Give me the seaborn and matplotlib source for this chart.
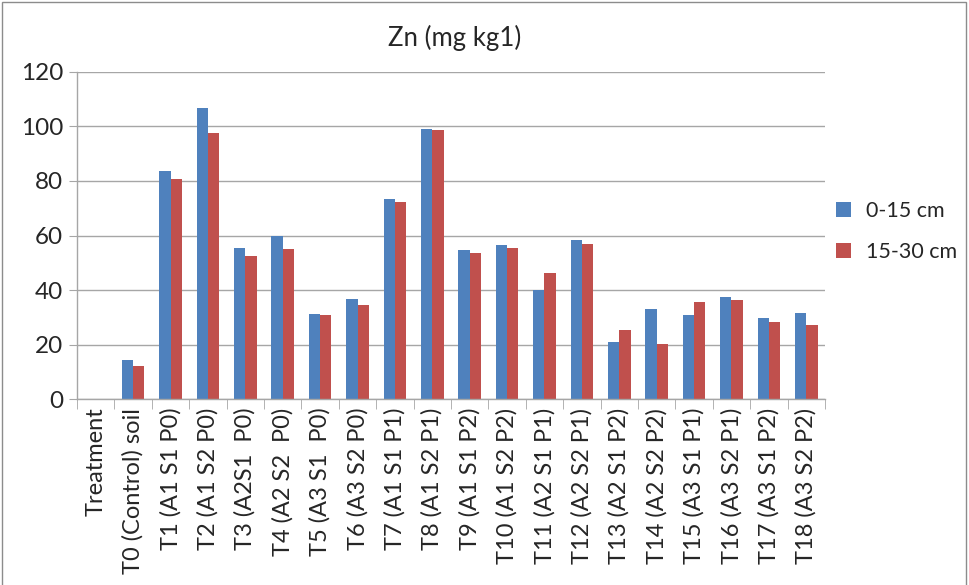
import pandas as pd
import numpy as np
import seaborn as sns
import matplotlib.pyplot as plt
from matplotlib.patches import Rectangle

# data
treatments = ['Treatment', 'T0 (Control) soil', 'T1 (A1 S1 P0)', 'T2 (A1 S2 P0)',
              'T3 (A2S1  P0)', 'T4 (A2 S2  P0)', 'T5 (A3 S1  P0)', 'T6 (A3 S2 P0)',
              'T7 (A1 S1 P1)', 'T8 (A1 S2 P1)', 'T9 (A1 S1 P2)', 'T10 (A1 S2 P2)',
              'T11 (A2 S1 P1)', 'T12 (A2 S2 P1)', 'T13 (A2 S1 P2)', 'T14 (A2 S2 P2)',
              'T15 (A3 S1 P1)', 'T16 (A3 S2 P1)', 'T17 (A3 S1 P2)', 'T18 (A3 S2 P2)']
depth_0_15 = [np.nan, 14.5, 83.6, 106.6, 55.5, 59.9, 31.2, 36.6, 73.3, 98.9,
              54.7, 56.5, 40.0, 58.2, 20.9, 33.1, 30.8, 37.6, 29.9, 31.7]
depth_15_30 = [np.nan, 12.3, 80.6, 97.7, 52.4, 55.2, 30.8, 34.4, 72.3, 98.5,
               53.5, 55.5, 46.2, 57.0, 25.3, 20.1, 35.8, 36.3, 28.4, 27.1]
series_names = ['0-15 cm', '15-30 cm']
colors = ['#4F81BD', '#C0504D']

df = pd.DataFrame({
    'Treatment': treatments * 2,
    'Zn': depth_0_15 + depth_15_30,
    'Depth': [series_names[0]] * len(treatments) + [series_names[1]] * len(treatments),
})

sns.set_style('white')
plt.rcParams['font.family'] = ['Lato', 'DejaVu Sans']

fig = plt.figure(figsize=(9.7, 5.85), dpi=100)
ax = fig.add_axes([0.0794, 0.3174, 0.7711, 0.56])

sns.barplot(data=df, x='Treatment', y='Zn', hue='Depth', order=treatments,
            hue_order=series_names, palette=colors, width=0.6, gap=0,
            errorbar=None, saturation=1, ax=ax, edgecolor='none')

ax.set_ylim(0, 120)
ax.set_xlim(-0.5, len(treatments) - 0.5)
ax.set_yticks(range(0, 121, 20))
ax.yaxis.grid(True, color='#a6a6a6', linewidth=1)
ax.set_axisbelow(True)
ax.set_xlabel('')
ax.set_ylabel('')
ax.tick_params(axis='y', labelsize=17.5, length=6, color='#a6a6a6', left=True, pad=4)
ax.tick_params(axis='x', which='major', labelsize=17, length=0, rotation=90, pad=6)
ax.set_xticks(np.arange(-0.5, len(treatments)), minor=True)
ax.tick_params(axis='x', which='minor', length=7, color='#a6a6a6', bottom=True)
for s in ['top', 'right']:
    ax.spines[s].set_visible(False)
for s in ['left', 'bottom']:
    ax.spines[s].set_color('#a6a6a6')
    ax.spines[s].set_linewidth(1)

fig.text(0.469, 0.935, 'Zn (mg kg1)', ha='center', va='center', fontsize=18.5)

ax.legend(loc='center left', bbox_to_anchor=(0.989, 0.512), frameon=False, fontsize=15.5,
          handlelength=0.7, handleheight=0.7, labelspacing=1.0, handletextpad=0.7)

fig.patches.append(Rectangle((2 / 970, -0.02), 964 / 970, 1.0 - 2 / 585 + 0.02,
                             transform=fig.transFigure, fill=False,
                             edgecolor='#8c8c8c', linewidth=1))

fig.savefig('out.png', dpi=100)
